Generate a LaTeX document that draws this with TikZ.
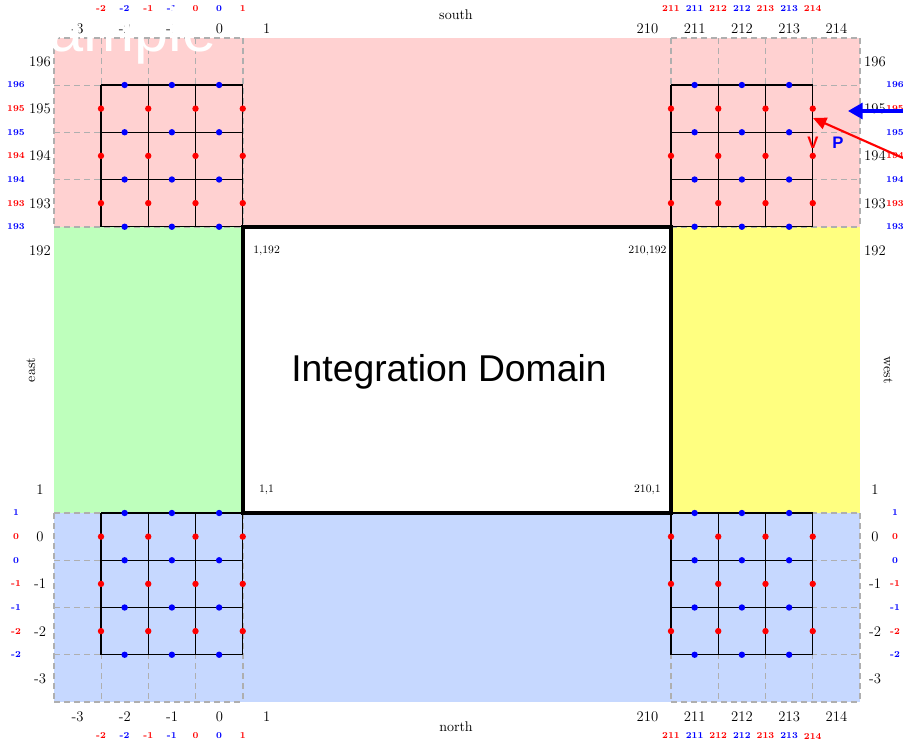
\documentclass[tikz,border=0pt]{standalone}
\usepackage{fontspec}
\newfontfamily\arialfont{Liberation Sans}
\usepackage{tikz}
\usetikzlibrary{arrows.meta}
\usepackage{xcolor}

\definecolor{southbg}{RGB}{255,209,209}
\definecolor{eastbg}{RGB}{190,255,188}
\definecolor{westbg}{RGB}{255,255,128}
\definecolor{northbg}{RGB}{198,216,255}
\definecolor{ghostgray}{RGB}{175,175,175}

\tikzset{
	ghostline/.style={ghostgray, dash pattern=on 4.5pt off 3pt, line width=0.8pt},
	cellline/.style={black, line width=1.1pt},
	udot/.style={circle, fill=blue, inner sep=0pt, minimum size=4.8pt},
	vdot/.style={circle, fill=red, inner sep=0pt, minimum size=4.8pt},
	axislabel/.style={font=\fontsize{11}{12}\selectfont, inner sep=0pt},
	ulabel/.style={text=blue, font=\fontsize{6.8}{7}\selectfont\bfseries, inner sep=0pt},
	vlabel/.style={text=red, font=\fontsize{6.8}{7}\selectfont\bfseries, inner sep=0pt},
	sidelabel/.style={font=\fontsize{10.5}{12}\selectfont, inner sep=0pt},
	cornerlabel/.style={font=\fontsize{8.5}{10}\selectfont, inner sep=0pt},
}

\begin{document}
\begin{tikzpicture}[x=0.75pt, y=-0.75pt]
\useasboundingbox (0,0) rectangle (903,742);

% halo bands round the domain
\fill[southbg] (54,38) rectangle (860,227);
\fill[eastbg] (54,227) rectangle (243,513);
\fill[westbg] (671,227) rectangle (860,513);
\fill[northbg] (54,513) rectangle (860,702);

% ghost cells (dashed) and staggered cells with u/v points in the four corners
\foreach \gx/\gy/\sx/\sy/\nm in {54/38/101/85/tl, 671/38/671/85/tr, 54/513/101/513/bl, 671/513/671/513/br} {
	\foreach \i in {0,...,4} {
		\draw[ghostline] ({\gx+\i*47.25},\gy) -- ++(0,189);
		\draw[ghostline] (\gx,{\gy+\i*47.25}) -- ++(189,0);
	}
	\foreach \i in {0,...,3} {
		\draw[cellline] ({\sx+\i*47.25},\sy) -- ++(0,141.75);
		\draw[cellline] (\sx,{\sy+\i*47.25}) -- ++(141.75,0);
	}
	\foreach \i in {0,1,2}
		\foreach \j in {0,...,3}
			\node[udot] (\nm-u\i\j) at ({\sx+(\i+0.5)*47.25},{\sy+\j*47.25}) {};
	\foreach \i in {0,...,3}
		\foreach \j in {0,1,2}
			\node[vdot] (\nm-v\i\j) at ({\sx+\i*47.25},{\sy+(\j+0.5)*47.25}) {};
}

% integration domain
\node[draw, line width=3pt, minimum width=321pt, minimum height=214.5pt, inner sep=0pt] (domain) at (457,370) {};
\node[font=\arialfont\fontsize{28}{30}\selectfont] (domainname) at (449,372) {Integration Domain};
\node[cornerlabel] (c11) at (266.6,250.6) {1,192};
\node[cornerlabel] (c21) at (647.4,250.6) {210,192};
\node[cornerlabel] (c12) at (266.6,489.4) {1,1};
\node[cornerlabel] (c22) at (647.4,489.4) {210,1};

% cell indices, top and bottom
\foreach \yy/\s in {29/t, 717/b} {
	\foreach \k [count=\n from 0] in {-3,-2,-1,0,1}
		\node[axislabel] (\s-l\n) at ({77.6+\n*47.25},\yy) {\k};
	\foreach \k [count=\n from 0] in {210,211,212,213,214}
		\node[axislabel] (\s-r\n) at ({647.4+\n*47.25},\yy) {\k};
}
% cell indices, left and right
\foreach \xx/\s in {40/l, 875/r} {
	\foreach \k [count=\n from 0] in {196,195,194,193,192}
		\node[axislabel] (\s-t\n) at (\xx,{61.6+\n*47.25}) {\k};
	\foreach \k [count=\n from 0] in {1,0,-1,-2,-3}
		\node[axislabel] (\s-b\n) at (\xx,{489.4+\n*47.25}) {\k};
}

% u/v point indices
\foreach \yy/\s in {9/t, 736/b} {
	\foreach \k [count=\n from 0] in {-2,-1,0,1}
		\node[vlabel] (\s-vl\n) at ({101+\n*47.25},\yy) {\k};
	\foreach \k [count=\n from 0] in {-2,-1,0}
		\node[ulabel] (\s-ul\n) at ({124.6+\n*47.25},\yy) {\k};
	\foreach \k [count=\n from 0] in {211,212,213,214}
		\node[vlabel] (\s-vr\n) at ({671+\n*47.25},\yy) {\k};
	\foreach \k [count=\n from 0] in {211,212,213}
		\node[ulabel] (\s-ur\n) at ({694.6+\n*47.25},\yy) {\k};
}
\foreach \xx/\s in {16/l, 895/r} {
	\foreach \k [count=\n from 0] in {196,195,194,193}
		\node[ulabel] (\s-ut\n) at (\xx,{85+\n*47.25}) {\k};
	\foreach \k [count=\n from 0] in {195,194,193}
		\node[vlabel] (\s-vt\n) at (\xx,{108.6+\n*47.25}) {\k};
	\foreach \k [count=\n from 0] in {1,0,-1,-2}
		\node[ulabel] (\s-ub\n) at (\xx,{513+\n*47.25}) {\k};
	\foreach \k [count=\n from 0] in {0,-1,-2}
		\node[vlabel] (\s-vb\n) at (\xx,{536.6+\n*47.25}) {\k};
}

% boundary names
\node[sidelabel] (south) at (456,15) {south};
\node[sidelabel] (north) at (456,727) {north};
\node[sidelabel, rotate=90] (east) at (31,370) {east};
\node[sidelabel, rotate=-90] (west) at (888,370) {west};

\node[text=white, font=\arialfont\fontsize{46}{48}\selectfont, anchor=base west, inner sep=0pt] (stamp) at (49,52) {ample};

% incoming P and V
\coordinate (pin) at (903,111);
\coordinate (ptip) at (848,111);
\coordinate (vin) at (903,158);
\coordinate (vtip) at (813,118);
\draw[blue, line width=2.3pt, -{Triangle[length=11pt, width=12pt]}] (pin) -- (ptip);
\draw[red, line width=1.6pt, -{Triangle[length=10pt, width=9pt]}] (vin) -- (vtip);
\node[text=red, font=\arialfont\bfseries\fontsize{12.5}{14}\selectfont] (vname) at (813,143) {V};
\node[text=blue, font=\arialfont\bfseries\fontsize{12.5}{14}\selectfont] (pname) at (838,143) {P};

\end{tikzpicture}
\end{document}
